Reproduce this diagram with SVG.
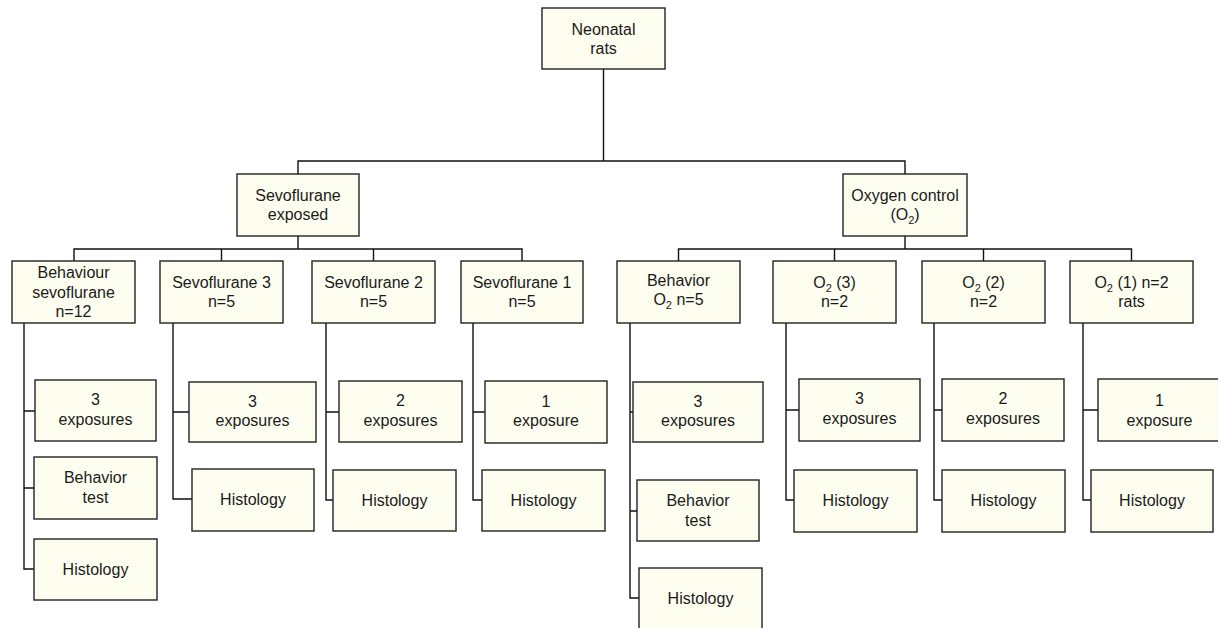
<svg xmlns="http://www.w3.org/2000/svg" width="1218" height="628" viewBox="0 0 1218 628">
<style>
.box{fill:#fefef0;stroke:#222;stroke-width:1.4}
.t{font-family:"Liberation Sans",Arial,Helvetica,sans-serif;font-size:16px;fill:#1a1a1a;text-anchor:middle}
.sub{font-size:11px}
.c{fill:none;stroke:#111;stroke-width:1.4}
</style>
<rect width="1218" height="628" fill="#fff"/>
<g id="connectors" class="c">
<path d="M603.5 69V161M298 174V161H905V174"/>
<path d="M298 236V249M74 261V249H522V261M221.5 249V261M373.5 249V261"/>
<path d="M905 236V249M678.5 261V249H1131.5V261M834.5 249V261M983.5 249V261"/>
<path d="M24 323V569H34M24 411H35M24 488H34"/>
<path d="M173 323V499H192M173 412H189"/>
<path d="M326 323V500H333M326 412H339"/>
<path d="M473 323V500H482M473 412H485"/>
<path d="M630 323V598H639M630 412H633M630 511H637"/>
<path d="M786 323V500H794M786 410H799"/>
<path d="M934 323V500H942M934 410H942"/>
<path d="M1083 323V500H1091M1083 410H1098"/>
</g>
<g id="root"><rect class="box" x="542" y="8" width="123" height="61"/><text class="t" x="603.5" y="34.5">Neonatal</text><text class="t" x="603.5" y="54">rats</text></g>
<g id="sevo"><rect class="box" x="237" y="174" width="122" height="62"/><text class="t" x="298" y="200.5">Sevoflurane</text><text class="t" x="298" y="220">exposed</text></g>
<g id="oxy"><rect class="box" x="843" y="174" width="124" height="62"/><text class="t" x="905" y="200.5">Oxygen control</text><text class="t" x="905" y="220">(O<tspan class="sub" dy="4">2</tspan><tspan dy="-4">)</tspan></text></g>
<g id="beh-sevo"><rect class="box" x="12" y="261" width="123" height="62"/><text class="t" x="73.5" y="278">Behaviour</text><text class="t" x="73.5" y="297.5">sevoflurane</text><text class="t" x="73.5" y="317">n=12</text></g>
<g id="sevo3"><rect class="box" x="160" y="261" width="123" height="62"/><text class="t" x="221.5" y="287.5">Sevoflurane 3</text><text class="t" x="221.5" y="307">n=5</text></g>
<g id="sevo2"><rect class="box" x="312" y="261" width="123" height="62"/><text class="t" x="373.5" y="287.5">Sevoflurane 2</text><text class="t" x="373.5" y="307">n=5</text></g>
<g id="sevo1"><rect class="box" x="461" y="261" width="122" height="62"/><text class="t" x="522" y="287.5">Sevoflurane 1</text><text class="t" x="522" y="307">n=5</text></g>
<g id="beh-o2"><rect class="box" x="617" y="261" width="123" height="62"/><text class="t" x="678.5" y="285.5">Behavior</text><text class="t" x="678.5" y="305">O<tspan class="sub" dy="4">2</tspan><tspan dy="-4"> n=5</tspan></text></g>
<g id="o2-3"><rect class="box" x="773" y="261" width="123" height="62"/><text class="t" x="834.5" y="287.5">O<tspan class="sub" dy="4">2</tspan><tspan dy="-4"> (3)</tspan></text><text class="t" x="834.5" y="307">n=2</text></g>
<g id="o2-2"><rect class="box" x="922" y="261" width="123" height="62"/><text class="t" x="983.5" y="287.5">O<tspan class="sub" dy="4">2</tspan><tspan dy="-4"> (2)</tspan></text><text class="t" x="983.5" y="307">n=2</text></g>
<g id="o2-1"><rect class="box" x="1070" y="261" width="123" height="62"/><text class="t" x="1131.5" y="287.5">O<tspan class="sub" dy="4">2</tspan><tspan dy="-4"> (1) n=2</tspan></text><text class="t" x="1131.5" y="307">rats</text></g>
<g id="bs-exp"><rect class="box" x="35" y="380" width="121" height="61"/><text class="t" x="95.5" y="405">3</text><text class="t" x="95.5" y="424.5">exposures</text></g>
<g id="bs-test"><rect class="box" x="34" y="457" width="123" height="62"/><text class="t" x="95.5" y="483">Behavior</text><text class="t" x="95.5" y="502.5">test</text></g>
<g id="bs-hist"><rect class="box" x="34" y="539" width="123" height="61"/><text class="t" x="95.5" y="575">Histology</text></g>
<g id="s3-exp"><rect class="box" x="189" y="382" width="127" height="60"/><text class="t" x="252.5" y="406.5">3</text><text class="t" x="252.5" y="426">exposures</text></g>
<g id="s3-hist"><rect class="box" x="192" y="469" width="122" height="62"/><text class="t" x="253" y="505">Histology</text></g>
<g id="s2-exp"><rect class="box" x="339" y="381" width="123" height="61"/><text class="t" x="400.5" y="406">2</text><text class="t" x="400.5" y="425.5">exposures</text></g>
<g id="s2-hist"><rect class="box" x="333" y="470" width="123" height="61"/><text class="t" x="394.5" y="506">Histology</text></g>
<g id="s1-exp"><rect class="box" x="485" y="381" width="122" height="62"/><text class="t" x="546" y="406.5">1</text><text class="t" x="546" y="426">exposure</text></g>
<g id="s1-hist"><rect class="box" x="482" y="470" width="123" height="61"/><text class="t" x="543.5" y="506">Histology</text></g>
<g id="bo-exp"><rect class="box" x="633" y="382" width="130" height="60"/><text class="t" x="698" y="406.5">3</text><text class="t" x="698" y="426">exposures</text></g>
<g id="bo-test"><rect class="box" x="637" y="480" width="122" height="61"/><text class="t" x="698" y="506">Behavior</text><text class="t" x="698" y="525.5">test</text></g>
<g id="bo-hist"><rect class="box" x="639" y="568" width="123" height="62"/><text class="t" x="700.5" y="604">Histology</text></g>
<g id="o3-exp"><rect class="box" x="799" y="379" width="121" height="62"/><text class="t" x="859.5" y="404">3</text><text class="t" x="859.5" y="423.5">exposures</text></g>
<g id="o3-hist"><rect class="box" x="794" y="470" width="123" height="62"/><text class="t" x="855.5" y="506">Histology</text></g>
<g id="o2-exp"><rect class="box" x="942" y="379" width="122" height="62"/><text class="t" x="1003" y="404">2</text><text class="t" x="1003" y="423.5">exposures</text></g>
<g id="o2-hist"><rect class="box" x="942" y="470" width="123" height="62"/><text class="t" x="1003.5" y="506">Histology</text></g>
<g id="o1-exp"><rect class="box" x="1098" y="379" width="123" height="62"/><text class="t" x="1159.5" y="406">1</text><text class="t" x="1159.5" y="425.5">exposure</text></g>
<g id="o1-hist"><rect class="box" x="1091" y="470" width="122" height="62"/><text class="t" x="1152" y="506">Histology</text></g>
</svg>
